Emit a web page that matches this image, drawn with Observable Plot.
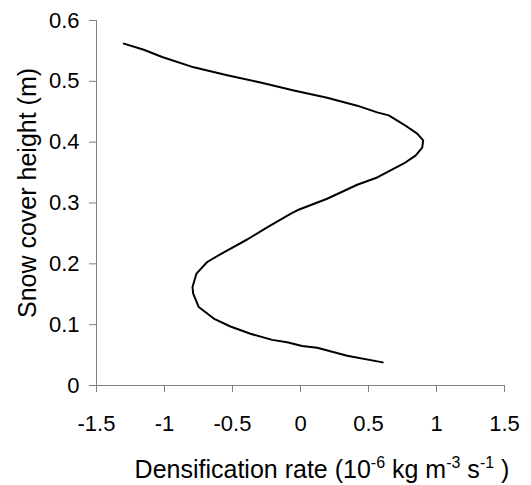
<!DOCTYPE html>
<html>
<head>
<meta charset="utf-8">
<script src="https://cdn.jsdelivr.net/npm/d3@7"></script>
<script src="https://cdn.jsdelivr.net/npm/@observablehq/plot@0.6"></script>
<style>
  html, body { margin: 0; padding: 0; background: #fff; }
  #chart svg { display: block; }
</style>
</head>
<body>
<div id="chart"></div>
<script>
// Densification rate (10^-6 kg m^-3 s^-1) vs snow cover height (m)
const rate = [
  -1.299, -1.152, -1.017, -0.785, -0.539, -0.294, -0.049, 0.196, 0.417, 0.564,
  0.649, 0.760, 0.858, 0.902, 0.895, 0.846, 0.760, 0.564, 0.417, 0.196,
  -0.024, -0.074, -0.245, -0.392, -0.564, -0.686, -0.765, -0.794, -0.789, -0.748,
  -0.638, -0.515, -0.368, -0.208, -0.098, 0.012, 0.123, 0.343, 0.605
];
const height = [
  0.562, 0.552, 0.540, 0.523, 0.510, 0.498, 0.485, 0.473, 0.460, 0.449,
  0.444, 0.429, 0.414, 0.403, 0.391, 0.378, 0.365, 0.342, 0.330, 0.307,
  0.288, 0.282, 0.260, 0.240, 0.219, 0.203, 0.184, 0.162, 0.151, 0.129,
  0.110, 0.097, 0.085, 0.075, 0.071, 0.065, 0.062, 0.049, 0.038
];
const xTicks = [-1.5, -1, -0.5, 0, 0.5, 1, 1.5];
const yTicks = [0, 0.1, 0.2, 0.3, 0.4, 0.5, 0.6];

const data = rate.map((r, i) => ({rate: r, height: height[i]}));

const FONT = "'Liberation Sans', Arial, sans-serif";

const chart = Plot.plot({
  width: 531,
  height: 485,
  marginLeft: 96,
  marginRight: 27,
  marginTop: 20,
  marginBottom: 100,
  style: {fontFamily: FONT, background: "#fff", color: "#000", overflow: "visible"},
  x: {domain: [-1.5, 1.5]},
  y: {domain: [0, 0.6]},
  marks: [
    Plot.axisX({ticks: xTicks, tickSize: 7, tickPadding: 23, tickFormat: d => String(d),
      fontSize: 22, stroke: "#808080", fill: "#000", label: null}),
    Plot.axisY({ticks: yTicks, tickSize: 7, tickPadding: 10, tickFormat: d => String(d),
      fontSize: 22, stroke: "#808080", fill: "#000", label: null}),
    Plot.ruleX([-1.5], {stroke: "#808080"}),
    Plot.ruleY([0], {stroke: "#808080"}),
    Plot.line(data, {x: "rate", y: "height", stroke: "#000", strokeWidth: 2})
  ]
});

document.getElementById("chart").appendChild(chart);

const svg = d3.select(chart);
// x axis title with superscripts
const xt = svg.append("text")
  .attr("x", 322).attr("y", 478)
  .attr("text-anchor", "middle")
  .attr("font-family", FONT)
  .attr("font-size", 25)
  .attr("fill", "#000");
xt.append("tspan").text("Densification rate (10");
xt.append("tspan").attr("dy", -10).attr("font-size", 16).text("-6");
xt.append("tspan").attr("dy", 10).text(" kg m");
xt.append("tspan").attr("dy", -10).attr("font-size", 16).text("-3");
xt.append("tspan").attr("dy", 10).text(" s");
xt.append("tspan").attr("dy", -10).attr("font-size", 16).text("-1");
xt.append("tspan").attr("dy", 10).text(" )");

// y axis title
svg.append("text")
  .attr("transform", "translate(27,193) rotate(-90)")
  .attr("text-anchor", "middle")
  .attr("dominant-baseline", "central")
  .attr("font-family", FONT)
  .attr("font-size", 25)
  .attr("fill", "#000")
  .text("Snow cover height (m)");
</script>
</body>
</html>
